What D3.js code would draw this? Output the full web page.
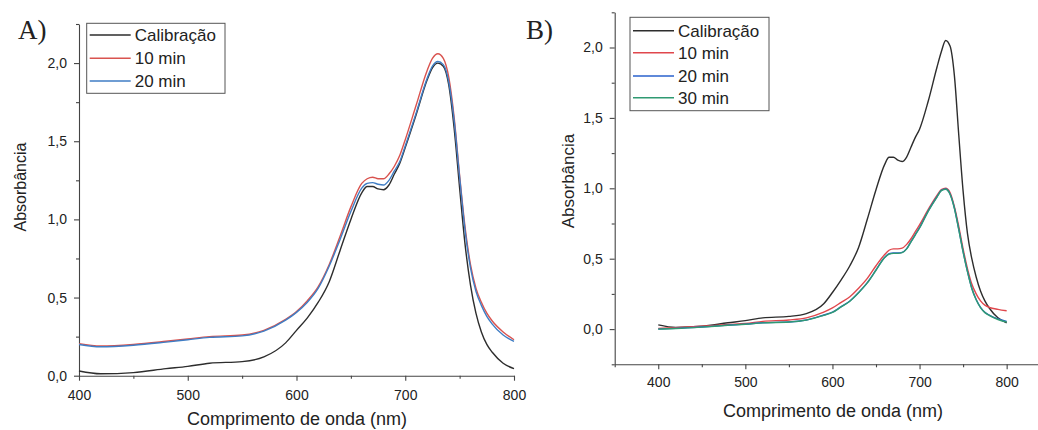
<!DOCTYPE html>
<html>
<head>
<meta charset="utf-8">
<script src="https://cdn.jsdelivr.net/npm/d3@7"></script>
<style>
  body { margin: 0; background: #fff; }
  text { font-family: "Liberation Sans", Arial, sans-serif; fill: #222; }
  .panel-label { font-family: "Liberation Serif", "Times New Roman", serif; }
</style>
</head>
<body>
<div id="chart"></div>
<script>
/* UV-Vis spectra, two panels */

// wavelengths (nm) shared by every series
var wavelengths = [400, 420, 450, 480, 500, 520, 550, 570, 590, 600, 610, 620, 630, 640,
  650, 660, 665, 670, 675, 680, 685, 690, 695, 700, 710, 720, 725, 730, 735, 740,
  745, 750, 755, 760, 765, 770, 775, 780, 790, 800];

// panel A
var namesA = ['Calibração', '10 min', '20 min'];
var calibA = [0.03, 0.012, 0.02, 0.045, 0.06, 0.08, 0.09, 0.12, 0.21, 0.29, 0.37, 0.47, 0.6, 0.8,
  1.0, 1.17, 1.21, 1.21, 1.195, 1.19, 1.22, 1.29, 1.36, 1.46, 1.67, 1.89, 1.97, 2.0, 1.98, 1.86,
  1.58, 1.2, 0.84, 0.58, 0.4, 0.28, 0.2, 0.15, 0.08, 0.045];
var min10A = [0.205, 0.19, 0.2, 0.22, 0.235, 0.25, 0.26, 0.29, 0.36, 0.41, 0.48, 0.57, 0.71, 0.89,
  1.08, 1.23, 1.26, 1.27, 1.26, 1.26, 1.29, 1.34, 1.41, 1.51, 1.73, 1.95, 2.03, 2.06, 2.03, 1.91,
  1.65, 1.28, 0.95, 0.71, 0.56, 0.47, 0.4, 0.35, 0.28, 0.23];
var min20A = [0.2, 0.185, 0.195, 0.215, 0.23, 0.245, 0.255, 0.285, 0.355, 0.405, 0.47, 0.56, 0.7, 0.87,
  1.05, 1.2, 1.23, 1.235, 1.225, 1.22, 1.25, 1.31, 1.37, 1.47, 1.68, 1.9, 1.98, 2.01, 1.99, 1.88,
  1.63, 1.27, 0.93, 0.69, 0.54, 0.45, 0.38, 0.33, 0.26, 0.22];

// panel B
var namesB = ['Calibração', '10 min', '20 min', '30 min'];
var calibB = [0.03, 0.012, 0.02, 0.045, 0.06, 0.08, 0.09, 0.11, 0.18, 0.26, 0.35, 0.45, 0.58, 0.78,
  0.99, 1.17, 1.22, 1.22, 1.2, 1.19, 1.22, 1.29, 1.36, 1.42, 1.62, 1.86, 1.97, 2.05, 2.01, 1.8,
  1.38, 0.98, 0.68, 0.5, 0.37, 0.27, 0.2, 0.15, 0.08, 0.045];
var min10B = [0.005, 0.01, 0.02, 0.033, 0.04, 0.055, 0.065, 0.08, 0.12, 0.15, 0.19, 0.23, 0.29, 0.36,
  0.45, 0.53, 0.56, 0.57, 0.57, 0.575, 0.6, 0.64, 0.69, 0.74, 0.85, 0.95, 0.99, 1.0, 0.97, 0.87,
  0.73, 0.57, 0.43, 0.32, 0.25, 0.2, 0.17, 0.155, 0.14, 0.13];
var min20B = [0.0, 0.005, 0.015, 0.028, 0.035, 0.045, 0.05, 0.065, 0.1, 0.12, 0.16, 0.2, 0.26, 0.33,
  0.42, 0.51, 0.535, 0.54, 0.54, 0.545, 0.57, 0.62, 0.67, 0.72, 0.84, 0.94, 0.985, 0.995, 0.96, 0.86,
  0.71, 0.55, 0.41, 0.29, 0.21, 0.155, 0.12, 0.1, 0.072, 0.055];
var min30B = [0.0, 0.004, 0.014, 0.027, 0.034, 0.044, 0.05, 0.064, 0.098, 0.118, 0.158, 0.198, 0.258, 0.328,
  0.418, 0.508, 0.533, 0.538, 0.538, 0.543, 0.568, 0.618, 0.668, 0.718, 0.838, 0.938, 0.983, 0.993, 0.958, 0.858,
  0.708, 0.548, 0.408, 0.288, 0.208, 0.152, 0.117, 0.097, 0.068, 0.05];

var yTicks = [0, 0.5, 1.0, 1.5, 2.0];
var xTicks = [400, 500, 600, 700, 800];

var width = 1038;
var height = 430;

var svg = d3.select('#chart').append('svg')
  .attr('width', width)
  .attr('height', height);

function commaFmt(d) {
  return d.toFixed(1).replace('.', ',');
}

function drawPanel(opt) {
  var x = d3.scaleLinear().domain(opt.xDomain).range(opt.xRange);
  var y = d3.scaleLinear().domain(opt.yDomain).range(opt.yRange);
  var g = svg.append('g');

  // minor ticks
  var xMinor = d3.range(opt.xDomain[0], opt.xDomain[1] + 1, 50)
    .filter(function(v) { return xTicks.indexOf(v) < 0; });
  var yMinor = d3.range(opt.yDomain[0], opt.yDomain[1] + 0.01, 0.25)
    .filter(function(v) { return Math.abs((v * 2) - Math.round(v * 2)) > 0.01; });

  g.append('g')
    .attr('transform', 'translate(0,' + opt.yRange[0] + ')')
    .call(d3.axisBottom(x).tickValues(xMinor).tickSize(3).tickFormat(''))
    .call(function(s) { s.select('.domain').remove(); });
  g.append('g')
    .attr('transform', 'translate(' + opt.xRange[0] + ',0)')
    .call(d3.axisLeft(y).tickValues(yMinor).tickSize(3).tickFormat(''))
    .call(function(s) { s.select('.domain').remove(); });

  var xAxis = g.append('g')
    .attr('transform', 'translate(0,' + opt.yRange[0] + ')')
    .call(d3.axisBottom(x).tickValues(xTicks).tickSize(5).tickSizeOuter(0)
      .tickPadding(opt.xPad));
  var yAxis = g.append('g')
    .attr('transform', 'translate(' + opt.xRange[0] + ',0)')
    .call(d3.axisLeft(y).tickValues(yTicks).tickSize(5).tickSizeOuter(0)
      .tickPadding(opt.yPad).tickFormat(commaFmt));

  [xAxis, yAxis].forEach(function(a) {
    a.selectAll('text').style('font-size', '14px').style('font-family', null).attr('fill', '#222');
  });
  g.selectAll('.domain, .tick line').attr('stroke', '#444').attr('stroke-width', 1.1);

  // curves
  var line = d3.line()
    .x(function(d, i) { return x(wavelengths[i]); })
    .y(function(d) { return y(d); })
    .curve(d3.curveMonotoneX);

  opt.series.forEach(function(s, i) {
    g.append('path')
      .datum(s)
      .attr('fill', 'none')
      .attr('stroke', opt.colors[i])
      .attr('stroke-width', 1.4)
      .attr('d', line);
  });

  // titles
  g.append('text')
    .attr('x', opt.xTitle[0]).attr('y', opt.xTitle[1])
    .attr('text-anchor', 'middle')
    .style('font-size', '18px')
    .text('Comprimento de onda (nm)');
  g.append('text')
    .attr('transform', 'translate(' + opt.yTitle[0] + ',' + opt.yTitle[1] + ') rotate(-90)')
    .attr('text-anchor', 'middle')
    .attr('dy', '0.35em')
    .style('font-size', opt.yTitleSize + 'px')
    .text('Absorbância');
  g.append('text')
    .attr('class', 'panel-label')
    .attr('x', opt.label[0]).attr('y', opt.label[1])
    .style('font-size', '27px')
    .text(opt.labelText);

  // legend
  var lg = opt.legend;
  g.append('rect')
    .attr('x', lg.x).attr('y', lg.y)
    .attr('width', lg.w).attr('height', lg.h)
    .attr('fill', '#fff')
    .attr('stroke', '#555').attr('stroke-width', 1);
  opt.names.forEach(function(n, i) {
    var yy = lg.rows[i];
    g.append('line')
      .attr('x1', lg.x + 3).attr('x2', lg.x + 44)
      .attr('y1', yy).attr('y2', yy)
      .attr('stroke', opt.colors[i]).attr('stroke-width', 1.4);
    g.append('text')
      .attr('x', lg.x + 48).attr('y', yy)
      .attr('dy', '0.36em')
      .style('font-size', '17px')
      .text(n);
  });
}

drawPanel({
  xDomain: [400, 800], xRange: [79, 514],
  yDomain: [0, 2.25], yRange: [375.7, 24],
  xPad: 9, yPad: 7,
  series: [calibA, min10A, min20A],
  names: namesA,
  colors: ['#2d2d2d', '#d9534f', '#3f7dc4'],
  xTitle: [297, 425], yTitle: [20, 187], yTitleSize: 16,
  label: [18, 39], labelText: 'A)',
  legend: { x: 86.7, y: 23.3, w: 138.3, h: 70, rows: [35, 58.3, 81] }
});

drawPanel({
  xDomain: [350, 850], xRange: [614.7, 1050.2],
  yDomain: [-0.25, 2.25], yRange: [364.3, 12.3],
  xPad: 8, yPad: 7,
  series: [calibB, min10B, min20B, min30B],
  names: namesB,
  colors: ['#2d2d2d', '#e0474c', '#2a62cc', '#2f9a72'],
  xTitle: [833, 417], yTitle: [568, 181], yTitleSize: 17,
  label: [526, 39], labelText: 'B)',
  legend: { x: 630, y: 17.3, w: 139, h: 93.4, rows: [30.7, 52.7, 76, 97.7] }
});
</script>
</body>
</html>
